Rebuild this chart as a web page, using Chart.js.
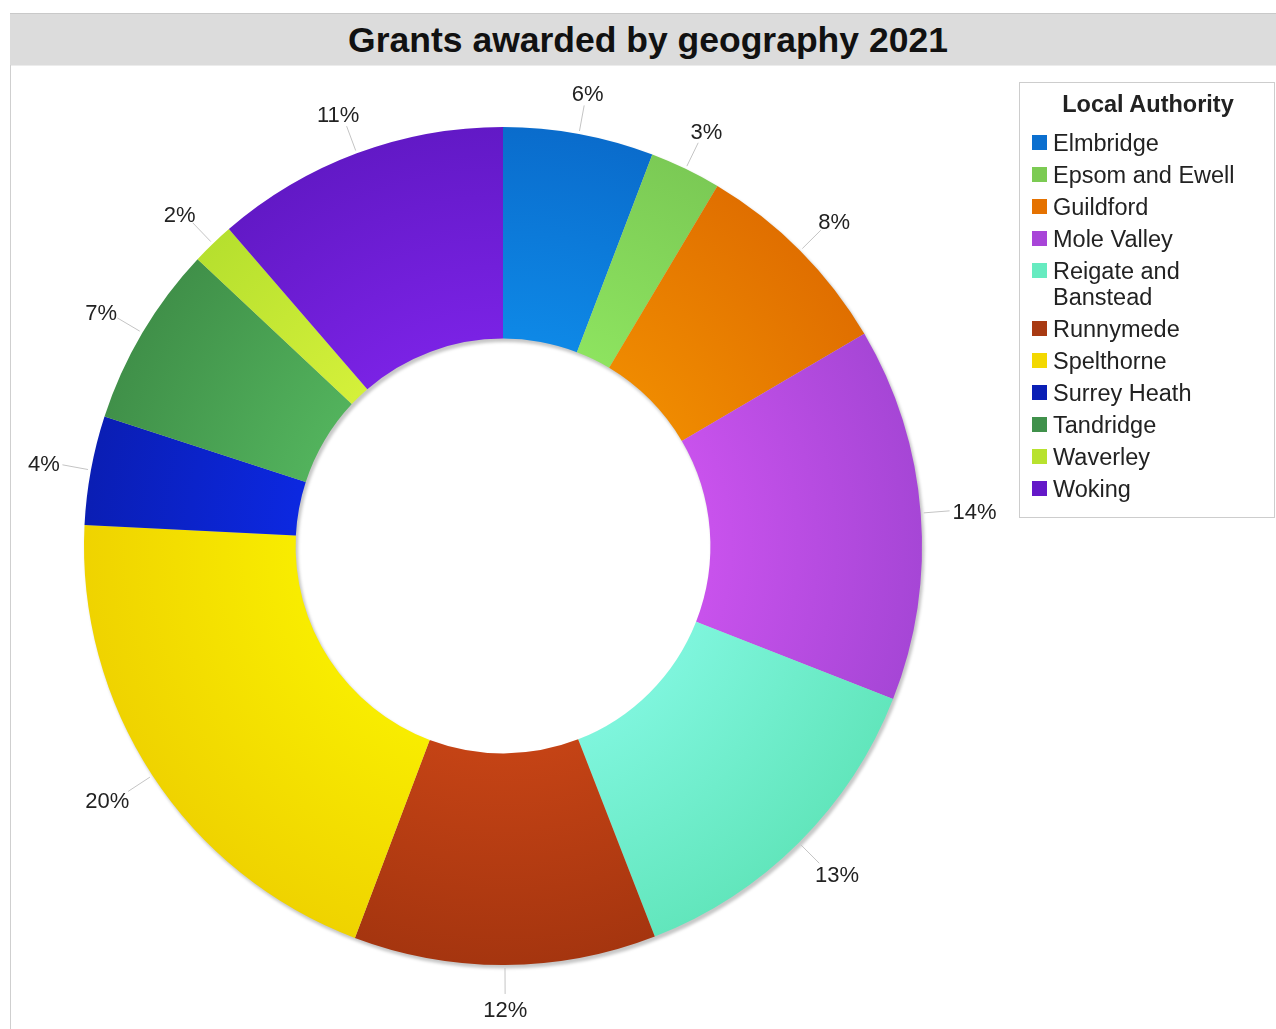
<!DOCTYPE html>
<html>
<head>
<meta charset="utf-8">
<script src="https://cdn.jsdelivr.net/npm/chart.js@4"></script>
<style>
  html, body { margin:0; padding:0; background:#fff; }
  body { width:1276px; height:1029px; position:relative; overflow:hidden; font-family:"Liberation Sans", Arial, sans-serif; }
  #titlebar { position:absolute; left:10px; top:13px; width:1266px; height:51px; background:#dcdcdc; border-top:1px solid #c9c9c9; border-bottom:1px solid #ececec; }
  #title { position:absolute; left:10px; right:0; top:0; height:51px; line-height:53px; text-align:center; font-weight:bold; font-size:35.5px; color:#111; }
  #leftline { position:absolute; left:10px; top:65px; width:1px; height:964px; background:#cfcfcf; }
  #chartwrap { position:absolute; left:0; top:0; width:1276px; height:1029px; }
  #legend { position:absolute; left:1019px; top:82px; width:254px; height:434px; border:1px solid #cdcdcd; background:#fff; }
  .lgtitle { position:absolute; left:0; width:256px; text-align:center; font-weight:bold; font-size:23.5px; color:#222; }
  .lgtext { position:absolute; left:33px; font-size:23.5px; color:#222; white-space:nowrap; }
  .sw { position:absolute; left:12px; width:15px; height:15px; }
</style>
</head>
<body>
<div id="titlebar"><div id="title">Grants awarded by geography 2021</div></div>
<div id="leftline"></div>
<div id="chartwrap"><canvas id="c" width="1276" height="1029"></canvas></div>
<div id="legend"></div>
<script>
// ---- data ----
const chartTitle = "Grants awarded by geography 2021";
const legendTitle = "Local Authority";
const categories = ["Elmbridge", "Epsom and Ewell", "Guildford", "Mole Valley", "Reigate and Banstead", "Runnymede", "Spelthorne", "Surrey Heath", "Tandridge", "Waverley", "Woking"];
const legendLines = [["Elmbridge"], ["Epsom and Ewell"], ["Guildford"], ["Mole Valley"], ["Reigate and", "Banstead"], ["Runnymede"], ["Spelthorne"], ["Surrey Heath"], ["Tandridge"], ["Waverley"], ["Woking"]];
const shares = [5.8, 2.75, 8.0, 14.4, 13.15, 11.65, 20.05, 4.2, 7.0, 1.65, 11.35];
const percentLabels = ["6%", "3%", "8%", "14%", "13%", "12%", "20%", "4%", "7%", "2%", "11%"];
const innerColors = ["#0e88e6", "#8de35f", "#ef8a00", "#c852ec", "#7ef5dc", "#c44315", "#f8ec00", "#0c28e0", "#52b25c", "#d4f03a", "#7a22e4"];
const outerColors = ["#0a6ccc", "#7bca55", "#e06f00", "#a646d6", "#62e6bc", "#a5350f", "#efd300", "#0a1eb4", "#409049", "#b6e02e", "#6219c6"];
const legendColors = ["#0b6fcf", "#7ccb53", "#e57200", "#a845d8", "#66ebc0", "#a83a12", "#f3d800", "#0a1fb5", "#40914b", "#b8e22e", "#6418c8"];

// ---- legend (HTML) ----
(function buildLegend(){
  const lg = document.getElementById('legend');
  const t = document.createElement('div');
  t.className = 'lgtitle'; t.textContent = legendTitle;
  t.style.top = (103 - 82 - 14) + 'px'; t.style.lineHeight = '28px';
  lg.appendChild(t);
  let y = 142;
  legendLines.forEach((lines, i) => {
    const sw = document.createElement('div');
    sw.className = 'sw'; sw.style.background = legendColors[i];
    sw.style.top = (y - 82 - 8) + 'px';
    lg.appendChild(sw);
    lines.forEach((ln, k) => {
      const d = document.createElement('div');
      d.className = 'lgtext'; d.textContent = ln;
      d.style.top = (y + k*26 - 82 - 14) + 'px'; d.style.lineHeight = '28px';
      lg.appendChild(d);
    });
    y += 32 + (lines.length - 1) * 26;
  });
})();

// ---- plugins ----
const shadowPlugin = {
  id: 'ringShadow',
  beforeDatasetsDraw(chart) {
    const meta = chart.getDatasetMeta(0);
    if (!meta.data.length) return;
    const a = meta.data[0];
    const ctx = chart.ctx;
    ctx.save();
    ctx.filter = 'blur(1.5px)';
    ctx.fillStyle = 'rgba(0,0,0,0.22)';
    ctx.beginPath();
    ctx.arc(a.x + 2, a.y + 3, a.outerRadius + 0.5, 0, Math.PI * 2, false);
    ctx.arc(a.x + 2, a.y + 3, a.innerRadius - 0.5, 0, Math.PI * 2, true);
    ctx.fill();
    ctx.restore();
  }
};

const labelPlugin = {
  id: 'outLabels',
  afterDatasetsDraw(chart) {
    const meta = chart.getDatasetMeta(0);
    const ctx = chart.ctx;
    ctx.save();
    ctx.font = '22px "Liberation Sans", Arial, sans-serif';
    ctx.textBaseline = 'middle';
    ctx.textAlign = 'center';
    meta.data.forEach((arc, i) => {
      const mid = (arc.startAngle + arc.endAngle) / 2;
      const ux = Math.cos(mid), uy = Math.sin(mid);
      const r = arc.outerRadius;
      const gap = 32;
      ctx.strokeStyle = '#c4c4c4';
      ctx.lineWidth = 1;
      ctx.beginPath();
      ctx.moveTo(arc.x + ux * (r + 3), arc.y + uy * (r + 3));
      ctx.lineTo(arc.x + ux * (r + gap - 3), arc.y + uy * (r + gap - 3));
      ctx.stroke();
      const txt = percentLabels[i];
      const w = ctx.measureText(txt).width;
      const h = 22;
      const px = arc.x + ux * (r + gap) + ux * w / 2;
      const py = arc.y + uy * (r + gap) + uy * h / 2;
      ctx.fillStyle = '#222';
      ctx.fillText(txt, px, py + 3);
    });
    ctx.restore();
  }
};

function sliceFill(context) {
  const i = context.dataIndex;
  const chart = context.chart;
  const area = chart.chartArea;
  if (!area) return outerColors[i];
  const cx = (area.left + area.right) / 2, cy = (area.top + area.bottom) / 2;
  const R = Math.min(area.right - area.left, area.bottom - area.top) / 2;
  const g = chart.ctx.createRadialGradient(cx, cy, R * 0.5, cx, cy, R);
  g.addColorStop(0, innerColors[i]);
  g.addColorStop(1, outerColors[i]);
  return g;
}

new Chart(document.getElementById('c'), {
  type: 'doughnut',
  data: {
    labels: categories,
    datasets: [{
      data: shares,
      backgroundColor: sliceFill,
      borderWidth: 0,
      hoverOffset: 0,
      spacing: 0
    }]
  },
  options: {
    responsive: false,
    animation: false,
    cutout: '49.5%',
    layout: { padding: { left: 84, top: 127, right: 354, bottom: 64 } },
    plugins: {
      legend: { display: false },
      title: { display: false },
      tooltip: { enabled: false }
    },
    events: []
  },
  plugins: [shadowPlugin, labelPlugin]
});
</script>
</body>
</html>
